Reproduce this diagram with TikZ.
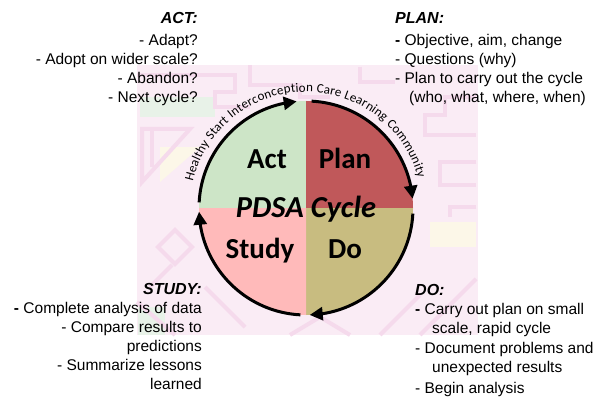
\documentclass[tikz,border=0pt]{standalone}
\usepackage{fontspec}
\setmainfont{Liberation Sans}
\newfontfamily\cyclefont{Carlito}
\usetikzlibrary{positioning,arrows.meta,bending,decorations.text}

\definecolor{actgreen}{RGB}{205,229,199}
\definecolor{planred}{RGB}{192,88,90}
\definecolor{studypink}{RGB}{255,186,186}
\definecolor{dokhaki}{RGB}{200,188,128}
\definecolor{patternbg}{RGB}{250,236,245}
\definecolor{patternline}{RGB}{245,218,236}
\definecolor{patterngreen}{RGB}{232,242,232}
\definecolor{patternyellow}{RGB}{252,247,232}

\tikzset{
  heading/.style={font=\fontsize{16}{19}\selectfont\bfseries\itshape, inner sep=0pt},
  notes/.style={font=\fontsize{15.5}{19}\selectfont, inner sep=0pt},
  quadlabel/.style={font=\cyclefont\bfseries\fontsize{29}{30}\selectfont, inner sep=0pt},
  cyclename/.style={font=\cyclefont\bfseries\itshape\fontsize{30.5}{31}\selectfont, inner sep=0pt},
  cyclearrow/.style={line width=3pt, -{Triangle[length=13pt,width=13pt]}},
  fret/.style={patternline, line width=4pt},
}

\begin{document}
\begin{tikzpicture}[x=1pt, y=1pt]
    \useasboundingbox (0,0) rectangle (602,397);

    % pale patterned backdrop
    \fill[patternbg] (137,62) rectangle (478,332);
    \fill[patterngreen] (140,280) rectangle (215,300);
    \fill[patternyellow] (160,250) -- (200,250) -- (160,215) -- cycle;
    \fill[patterngreen] (138,62) rectangle (165,90);
    \fill[patternyellow] (430,150) rectangle (476,175);
    \draw[fret] (137,322) -- (235,322) -- (235,305) -- (215,305) -- (215,290) -- (250,290);
    \draw[fret] (250,332) -- (250,312) -- (300,312) -- (300,300) -- (330,300);
    \draw[fret] (360,330) -- (360,315) -- (395,315);
    \draw[fret] (142,268) -- (190,268) -- (142,215) -- cycle;
    \draw[fret] (152,268) -- (152,230);
    \draw[fret] (158,150) -- (175,167) -- (192,150) -- (175,133) -- cycle;
    \draw[fret] (150,110) -- (172,132);
    \draw[fret] (137,95) -- (175,62);
    \draw[fret] (205,110) -- (245,70);
    \draw[fret] (476,300) -- (445,300) -- (445,282) -- (425,282) -- (425,262) -- (476,262);
    \draw[fret] (476,235) -- (440,235) -- (440,212) -- (476,212);
    \draw[fret] (476,190) -- (450,190) -- (450,180);
    \draw[fret] (420,62) -- (476,118);
    \draw[fret] (380,62) -- (420,102);
    \draw[fret] (290,62) -- (320,80) -- (350,62);

    % the cycle: four quarters around one centre
    \coordinate (c) at (306,189);
    \fill[actgreen] (c) -- ++(180:107) arc[start angle=180, end angle=90, radius=107] -- cycle;
    \fill[planred] (c) -- ++(90:107) arc[start angle=90, end angle=0, radius=107] -- cycle;
    \fill[dokhaki] (c) -- ++(0:107) arc[start angle=0, end angle=-90, radius=107] -- cycle;
    \fill[studypink] (c) -- ++(-90:107) arc[start angle=-90, end angle=-180, radius=107] -- cycle;

    % arrows running clockwise
    \draw[cyclearrow] ([shift={(177:107)}]c) arc[start angle=177, end angle=95, radius=107];
    \draw[cyclearrow] ([shift={(87:107)}]c) arc[start angle=87, end angle=5, radius=107];
    \draw[cyclearrow] ([shift={(-3:107)}]c) arc[start angle=-3, end angle=-88, radius=107];
    \draw[cyclearrow] ([shift={(-93:107)}]c) arc[start angle=-93, end angle=-178, radius=107];

    % curved caption over the top
    \path[decorate, decoration={text along path, text align={fit to path},
        text={|\cyclefont\fontsize{13}{14}\selectfont|Healthy Start Interconception Care Learning Community}}]
        ([shift={(167:116)}]c) arc[start angle=167, end angle=15, radius=116];

    % quarter labels
    \node[quadlabel, anchor=base] (actlbl) at (267,229) {Act};
    \node[quadlabel, anchor=base] (planlbl) at (345,229) {Plan};
    \node[cyclename, anchor=base] (pdsa) at (306,180) {PDSA Cycle};
    \node[quadlabel, anchor=base] (studylbl) at (260,139) {Study};
    \node[quadlabel, anchor=base] (dolbl) at (345,139) {Do};

    % ACT
    \node[heading, anchor=base east] (act) at (198,373) {ACT:};
    \node[notes, align=right, anchor=north east] (actnotes) at (198,364)
        {\rule{0pt}{12pt}- Adapt?\\- Adopt on wider scale?\\- Abandon?\\- Next cycle?};

    % PLAN
    \node[heading, anchor=base west] (plan) at (395,373) {PLAN:};
    \node[notes, align=left, anchor=north west] (plannotes) at (395,364)
        {\rule{0pt}{12pt}\textbf{-} Objective, aim, change\\- Questions (why)\\- Plan to carry out the cycle\\\hspace*{14pt}(who, what, where, when)};

    % STUDY
    \node[heading, anchor=base east] (study) at (202,103) {STUDY:};
    \node[notes, align=right, anchor=north east] (studynotes) at (202,96)
        {\rule{0pt}{12pt}\textbf{-} Complete analysis of data\\- Compare results to\\predictions\\- Summarize lessons\\learned};

    % DO
    \node[heading, anchor=base west] (do) at (415,102) {DO:};
    \node[notes, align=left, anchor=north west] (donotes) at (415,95)
        {\rule{0pt}{12pt}\textbf{-} Carry out plan on small\\\hspace*{17pt}scale, rapid cycle\\[1.5pt]- Document problems and\\\hspace*{17pt}unexpected results\\[1.5pt]- Begin analysis};
\end{tikzpicture}
\end{document}
